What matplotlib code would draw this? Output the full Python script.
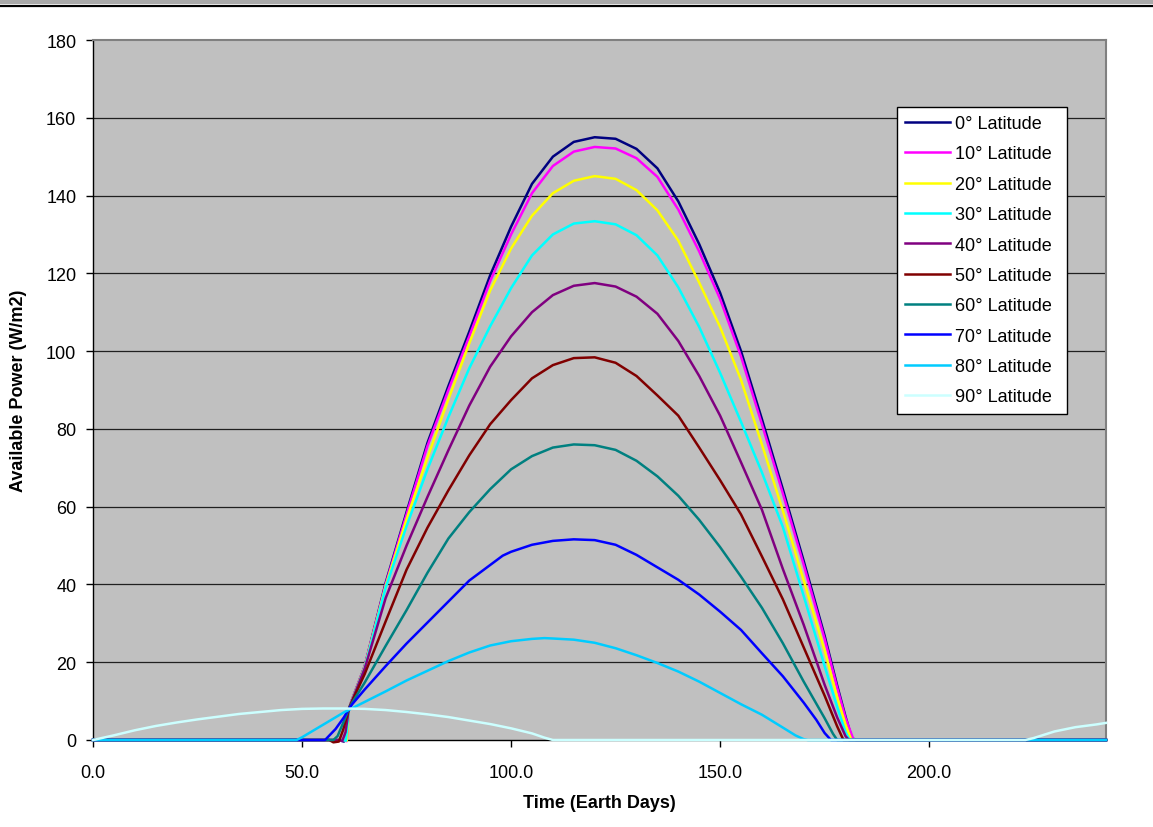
import matplotlib
matplotlib.use("Agg")
import matplotlib.pyplot as plt
from matplotlib.patches import Rectangle
from matplotlib.lines import Line2D

plt.rcParams['font.family'] = ['Liberation Sans', 'DejaVu Sans']

# available power (W/m2) vs time (earth days), one series per latitude
t_lat0 = [0, 59, 60, 60.6, 61.2, 62, 65, 70, 75, 80, 85, 90, 95, 100, 105, 110, 115, 120,
          125, 130, 135, 140, 145, 150, 155, 160, 165, 170, 175, 178, 180, 181.5, 182.5, 242.3]
p_lat0 = [0, 0, -0.4, 0, 8, 10.5, 19.0, 40.4, 58.6, 76.4, 91.0, 105.0, 119.5, 132.0, 143.0, 150.0, 153.8, 155.0,
          154.6, 152.0, 147.0, 138.5, 127.5, 115.0, 100.0, 82.5, 64.5, 46.0, 26.8, 14.0, 6.0, 0.5, 0, 0]

t_lat10 = [0, 60, 60.7, 61.2, 62, 65, 70, 75, 80, 85, 90, 95, 100, 105, 110, 115, 120,
           125, 130, 135, 140, 145, 150, 155, 160, 165, 170, 175, 178, 180, 181.8, 182.3, 242.3]
p_lat10 = [0, 0, -0.3, 8, 10.5, 19.0, 40.0, 58.0, 75.6, 90.0, 103.8, 118.0, 130.0, 140.6, 147.6, 151.3, 152.5,
           152.1, 149.6, 144.8, 136.4, 125.6, 113.4, 98.6, 81.2, 63.4, 45.0, 26.0, 13.4, 5.6, 0.4, 0, 0]

t_lat20 = [0, 60.3, 60.7, 61.2, 62, 65, 70, 75, 80, 85, 90, 95, 100, 105, 110, 115, 120,
           125, 130, 135, 140, 145, 150, 155, 160, 165, 170, 175, 178, 180, 181.3, 181.8, 242.3]
p_lat20 = [0, 0, -0.2, 8, 10.4, 18.8, 39.6, 56.8, 72.6, 87.6, 102.0, 115.6, 126.4, 134.8, 140.6, 143.8, 145.0,
           144.3, 141.4, 136.2, 128.4, 117.6, 106.2, 92.6, 76.0, 59.0, 41.0, 23.0, 11.0, 4.0, 0.3, 0, 0]

t_lat30 = [0, 60.0, 60.5, 61.2, 62, 65, 70, 75, 80, 85, 90, 95, 100, 105, 110, 115, 120,
           125, 130, 135, 140, 145, 150, 155, 160, 165, 170, 175, 178, 180, 181, 242.3]
p_lat30 = [0, 0, -0.2, 8, 10.2, 18.6, 39.2, 55.0, 69.6, 83.0, 95.6, 106.4, 116.2, 124.6, 130.0, 132.8, 133.4,
           132.6, 129.8, 124.6, 116.4, 106.2, 94.4, 81.8, 68.8, 54.8, 37.0, 19.0, 8.5, 2.0, 0, 0]

t_lat40 = [0, 59, 59.6, 60.4, 61.2, 62, 65, 70, 75, 80, 85, 90, 95, 100, 105, 110, 115, 120,
           125, 130, 135, 140, 145, 150, 155, 160, 165, 170, 175, 178, 180, 180.8, 242.3]
p_lat40 = [0, 0, -0.3, 2.0, 8, 10.2, 18.4, 36.5, 50.0, 62.5, 74.5, 86.0, 96.0, 103.8, 110.0, 114.4, 116.8, 117.5,
           116.6, 114.0, 109.6, 102.6, 93.6, 83.4, 71.4, 59.2, 44.0, 29.6, 14.2, 5.8, 1.0, 0, 0]

t_lat50 = [0, 56.5, 57.5, 58.8, 59.8, 61.2, 62, 65, 70, 75, 80, 85, 90, 95, 100, 105, 110, 115, 120,
           125, 130, 135, 140, 145, 150, 155, 160, 165, 170, 175, 178, 179.5, 242.3]
p_lat50 = [0, 0, -0.6, -0.4, 2.5, 8, 10.0, 17.0, 30.5, 43.8, 54.6, 64.2, 73.2, 81.2, 87.4, 93.0, 96.4, 98.2, 98.4,
           97.0, 93.6, 88.6, 83.4, 75.2, 66.8, 58.0, 47.2, 36.2, 23.8, 11.4, 3.5, 0, 0]

t_lat60 = [0, 57.5, 58.5, 60, 61.2, 62, 65, 70, 75, 80, 85, 90, 95, 100, 105, 110, 115, 120,
           125, 130, 135, 140, 145, 150, 155, 160, 165, 170, 175, 177, 178, 242.3]
p_lat60 = [0, 0, 1.0, 4.8, 8, 9.6, 14.8, 24.2, 33.4, 43.0, 51.8, 58.6, 64.5, 69.6, 73.0, 75.2, 76.0, 75.8,
           74.6, 71.8, 67.8, 62.8, 56.6, 49.6, 42.0, 34.0, 24.9, 15.0, 5.6, 1.6, 0, 0]

t_lat70 = [0, 55.5, 58, 60, 61.2, 62, 65, 70, 75, 80, 85, 90, 95, 98, 100, 105, 110, 115, 120,
           125, 130, 135, 140, 145, 150, 155, 160, 165, 170, 173, 175, 176.5, 242.3]
p_lat70 = [0, 0, 2.8, 5.8, 8, 9.2, 13.0, 19.0, 24.8, 30.2, 35.6, 41.0, 45.0, 47.4, 48.4, 50.2, 51.2, 51.6, 51.4,
           50.2, 47.6, 44.4, 41.2, 37.4, 33.0, 28.3, 22.3, 16.4, 9.6, 5.2, 1.8, 0, 0]

t_lat80 = [0, 48.7, 50, 55, 60, 65, 70, 75, 80, 85, 90, 95, 100, 105, 108, 110, 115, 120,
           125, 130, 135, 140, 145, 150, 155, 160, 165, 168, 170, 171, 242.3]
p_lat80 = [0, 0, 0.7, 3.9, 7.1, 9.8, 12.5, 15.3, 17.8, 20.3, 22.5, 24.3, 25.4, 26.0, 26.2, 26.1, 25.8, 25.0,
           23.6, 21.8, 19.8, 17.6, 15.0, 12.1, 9.2, 6.5, 3.2, 1.2, 0.2, 0, 0]

t_lat90 = [0, 5, 10, 15, 20, 25, 30, 35, 40, 45, 50, 55, 60, 65, 70, 75, 80, 85, 90, 95, 100, 105, 108, 110,
           223, 225, 230, 235, 240, 242.3]
p_lat90 = [0, 1.2, 2.5, 3.6, 4.5, 5.3, 6.0, 6.7, 7.2, 7.7, 8.0, 8.1, 8.1, 8.0, 7.7, 7.2, 6.6, 5.9, 5.0, 4.1, 3.0, 1.7, 0.6, 0,
           0, 0.5, 2.2, 3.3, 4.0, 4.4]

labels = ['0° Latitude', '10° Latitude', '20° Latitude', '30° Latitude', '40° Latitude',
          '50° Latitude', '60° Latitude', '70° Latitude', '80° Latitude', '90° Latitude']
colors = ['#000080', '#FF00FF', '#FFFF00', '#00FFFF', '#800080',
          '#800000', '#008080', '#0000FF', '#00CCFF', '#CCFFFF']

series = [(t_lat0, p_lat0), (t_lat10, p_lat10), (t_lat20, p_lat20), (t_lat30, p_lat30),
          (t_lat40, p_lat40), (t_lat50, p_lat50), (t_lat60, p_lat60), (t_lat70, p_lat70),
          (t_lat80, p_lat80), (t_lat90, p_lat90)]

y_ticks = list(range(0, 181, 20))
x_ticks = [0, 50, 100, 150, 200]

fig = plt.figure(figsize=(11.53, 8.28), dpi=100)

# header band across the top of the page
fig.add_artist(Rectangle((0, 1 - 5 / 828), 1, 5 / 828, transform=fig.transFigure,
                         facecolor='#a9a9a9', edgecolor='none'))
fig.add_artist(Line2D([0, 1], [1 - 6.5 / 828] * 2, transform=fig.transFigure,
                      color='black', lw=1.6))

ax = fig.add_axes([93 / 1153, 1 - 741 / 828, (1106 - 93) / 1153, 700 / 828])
ax.set_facecolor('#C0C0C0')

for y in y_ticks[1:-1]:
    ax.axhline(y, color='#202020', lw=0.9, zorder=1)

for (t, p), lab, col in zip(series, labels, colors):
    ax.plot(t, p, color=col, lw=1.8, label=lab, clip_on=False, zorder=3)

ax.set_xlim(0, 242.3)
ax.set_ylim(0, 180)
ax.set_yticks(y_ticks)
ax.set_xticks(x_ticks)
ax.set_xticklabels([f'{v:.1f}' for v in x_ticks])
ax.tick_params(axis='both', direction='out', length=5, width=1, labelsize=13, color='black')
ax.tick_params(axis='x', pad=12)
ax.tick_params(axis='y', pad=7)

for side in ['left', 'bottom']:
    ax.spines[side].set_color('black')
    ax.spines[side].set_linewidth(1)
for side in ['top', 'right']:
    ax.spines[side].set_color('#808080')
    ax.spines[side].set_linewidth(1.5)

ax.set_xlabel('Time (Earth Days)', fontsize=13, fontweight='bold', labelpad=10)
ax.set_ylabel('Available Power (W/m2)', fontsize=13, fontweight='bold', labelpad=14)

# legend box stretched to a fixed width, anchored near the upper right
leg_x0 = (897 - 93) / 1013
leg_w = (1067 - 897) / 1013
leg_top = (741 - 108) / 700
leg = ax.legend(loc='upper left', bbox_to_anchor=(leg_x0, leg_top - 0.5, leg_w, 0.5),
                mode='expand', fontsize=13,
                frameon=True, fancybox=False, edgecolor='black', framealpha=1,
                handlelength=2.5, labelspacing=0.74, borderpad=0.45,
                handletextpad=0.25, borderaxespad=0)
leg.get_frame().set_linewidth(1)

fig.savefig('out.png', dpi=100)
